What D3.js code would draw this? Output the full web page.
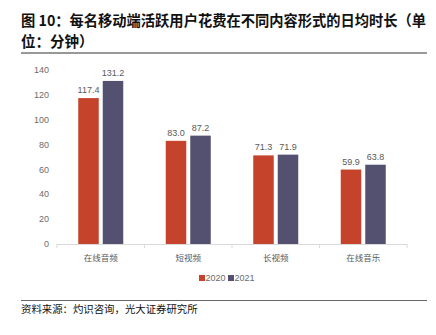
<!DOCTYPE html>
<html><head><meta charset="utf-8">
<script src="https://cdn.jsdelivr.net/npm/d3@7"></script>
<style>body{margin:0;background:#fff;} svg{display:block;}</style>
</head><body>
<svg id="c" width="436" height="335"></svg>
<script>
const categories = ["在线音频","短视频","长视频","在线音乐"];
const seriesNames = ["2020","2021"];
const values2020 = [117.4, 83.0, 71.3, 59.9];
const values2021 = [131.2, 87.2, 71.9, 63.8];
const yTicks = [0,20,40,60,80,100,120,140];
const colors = ["#C5432A","#545170"];
const titleLines = ["图 10：每名移动端活跃用户花费在不同内容形式的日均时长（单","位：分钟）"];
const sourceText = "资料来源：灼识咨询，光大证券研究所";

const font = "'Noto Sans CJK SC', 'Liberation Sans', Arial, sans-serif";
const numFont = "'Liberation Sans', Arial, sans-serif";
const svg = d3.select("#c");

// title
svg.selectAll("text.title").data(titleLines).join("text")
  .attr("class","title")
  .attr("x",21).attr("y",(d,i)=>26+i*21)
  .attr("font-family",font).attr("font-weight","bold").attr("font-size",14.5)
  .attr("fill","#111")
  .attr("textLength",(d,i)=>i===0?405:null)
  .attr("lengthAdjust","spacingAndGlyphs")
  .text(d=>d);
svg.append("line").attr("x1",21).attr("x2",427).attr("y1",53).attr("y2",53)
  .attr("stroke","#333").attr("stroke-width",1.2);

const x0 = d3.scaleBand().domain(categories).range([57,407]).paddingInner(0).paddingOuter(0);
const y = d3.scaleLinear().domain([0,140]).range([244,70]);
const barW = 20.5, gap = 4;

// y axis labels
svg.selectAll("text.ytick").data(yTicks).join("text")
  .attr("class","ytick")
  .attr("x",49).attr("y",d=>y(d)).attr("dy","0.35em")
  .attr("text-anchor","end")
  .attr("font-family",numFont).attr("font-size",9)
  .attr("fill","#6b6b6b").text(d=>d);

// baseline
svg.append("line").attr("x1",57).attr("x2",407).attr("y1",y(0)+0.5).attr("y2",y(0)+0.5)
  .attr("stroke","#d9d9d9").attr("stroke-width",1);
const bounds = [57].concat(categories.map(c=>x0(c)+x0.bandwidth()));
svg.selectAll("line.tick").data(bounds).join("line").attr("class","tick")
  .attr("x1",d=>d).attr("x2",d=>d).attr("y1",y(0)).attr("y2",y(0)+4)
  .attr("stroke","#d9d9d9");

const series = [values2020, values2021];
series.forEach((vals, si) => {
  const g = svg.append("g");
  const xpos = (c) => x0(c) + x0.bandwidth()/2 + (si===0 ? -gap/2 - barW : gap/2);
  g.selectAll("rect").data(categories).join("rect")
    .attr("x", c=>xpos(c)).attr("width",barW)
    .attr("y",(c,i)=>y(vals[i])).attr("height",(c,i)=>y(0)-y(vals[i]))
    .attr("fill",colors[si]);
  g.selectAll("text").data(categories).join("text")
    .attr("x", c=>xpos(c)+barW/2).attr("y",(c,i)=>y(vals[i])-5)
    .attr("text-anchor","middle")
    .attr("font-family",numFont).attr("font-size",9)
    .attr("fill","#595959").text((c,i)=>vals[i].toFixed(1));
});

// category labels
svg.selectAll("text.cat").data(categories).join("text").attr("class","cat")
  .attr("x",c=>x0(c)+x0.bandwidth()/2).attr("y",258).attr("dy","0.35em")
  .attr("text-anchor","middle").attr("font-family",font).attr("font-size",8.5)
  .attr("fill","#595959").text(d=>d);

// legend
const legX = [199, 228];
seriesNames.forEach((n,i)=>{
  svg.append("rect").attr("x",legX[i]).attr("y",275).attr("width",6).attr("height",6).attr("fill",colors[i]);
  svg.append("text").attr("x",legX[i]+6.5).attr("y",278).attr("dy","0.35em")
    .attr("font-family",numFont).attr("font-size",9)
    .attr("fill","#6b6b6b").text(n);
});

// footer
svg.append("line").attr("x1",21).attr("x2",427).attr("y1",300.5).attr("y2",300.5)
  .attr("stroke","#666").attr("stroke-width",1.2);
svg.append("text").attr("x",21).attr("y",309).attr("dy","0.35em")
  .attr("font-family",font).attr("font-size",10.4).attr("fill","#111").text(sourceText);
</script>
</body></html>
